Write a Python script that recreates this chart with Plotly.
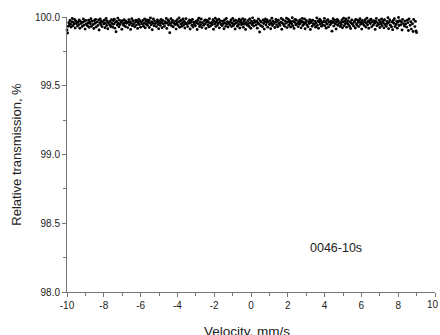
import numpy as np
import plotly.graph_objects as go

x_start, x_end = -10.0, 9.0
transmission = [
99.905, 99.884, 99.932, 99.958, 99.941, 99.975, 99.948, 99.927, 99.966, 99.989, 99.937, 99.961, 99.950, 99.982, 99.920, 99.971, 99.953, 100.006, 99.935, 99.964,
99.944, 99.979, 99.918, 99.968, 99.952, 100.019, 99.931, 99.962, 99.986, 99.940, 99.970, 99.912, 99.975, 99.949, 100.012, 99.936, 99.957, 99.977, 99.925, 99.966,
99.951, 99.988, 99.933, 99.969, 100.024, 99.945, 99.916, 99.974, 99.955, 99.983, 99.928, 99.963, 100.001, 99.939, 99.978, 99.905, 99.958, 99.985, 99.946, 99.970,
99.930, 99.964, 100.009, 99.950, 99.976, 99.922, 99.956, 99.990, 99.938, 99.972, 99.914, 99.957, 100.016, 99.943, 99.967, 99.931, 99.981, 99.953, 99.927, 99.975,
99.948, 99.984, 99.919, 99.961, 99.893, 99.969, 99.942, 99.992, 99.955, 99.929, 99.977, 99.946, 100.011, 99.963, 99.911, 99.973, 99.952, 99.940, 99.980, 99.959,
99.931, 99.970, 99.954, 100.004, 99.923, 99.962, 99.981, 99.944, 99.966, 99.910, 99.956, 99.988, 99.937, 99.973, 99.949, 100.021, 99.929, 99.961, 99.977, 99.941,
99.969, 99.917, 99.958, 99.983, 99.946, 99.971, 99.926, 99.963, 100.007, 99.950, 99.974, 99.933, 99.954, 99.986, 99.921, 99.968, 99.947, 99.979, 99.939, 99.960,
99.976, 99.924, 99.959, 99.993, 99.943, 99.966, 99.907, 99.955, 99.985, 99.936, 99.972, 99.952, 100.014, 99.930, 99.962, 99.978, 99.945, 99.915, 99.970, 99.957,
99.939, 99.982, 99.960, 99.922, 99.974, 99.950, 100.002, 99.932, 99.965, 99.955, 99.990, 99.917, 99.958, 99.978, 99.942, 99.968, 99.886, 99.952, 99.987, 99.936,
99.961, 99.975, 99.928, 99.957, 100.010, 99.946, 99.970, 99.912, 99.953, 99.981, 99.938, 99.963, 99.994, 99.925, 99.972, 99.950, 99.977, 99.933, 99.959, 99.986,
99.943, 99.967, 99.920, 99.956, 99.988, 99.947, 100.018, 99.930, 99.965, 99.954, 99.979, 99.913, 99.960, 99.973, 99.940, 99.983, 99.927, 99.962, 99.949, 100.005,
99.936, 99.970, 99.957, 99.909, 99.976, 99.951, 99.991, 99.931, 99.964, 99.944, 99.985, 99.923, 99.958, 100.013, 99.939, 99.972, 99.950, 99.979, 99.916, 99.961,
99.974, 99.942, 99.966, 99.928, 99.987, 99.954, 99.934, 100.003, 99.960, 99.946, 99.980, 99.911, 99.968, 99.950, 99.991, 99.930, 99.962, 99.976, 99.941, 99.957,
99.984, 99.921, 99.961, 99.972, 99.945, 100.022, 99.937, 99.969, 99.952, 99.915, 99.978, 99.956, 99.932, 99.989, 99.948, 99.966, 99.927, 99.959, 100.004, 99.943,
99.964, 99.979, 99.930, 99.955, 99.990, 99.938, 99.971, 99.950, 99.913, 99.976, 99.956, 100.008, 99.933, 99.968, 99.946, 99.984, 99.920, 99.962, 99.975, 99.944,
99.955, 99.988, 99.925, 99.967, 99.948, 99.981, 99.910, 99.959, 100.012, 99.940, 99.973, 99.952, 99.931, 99.985, 99.957, 99.918, 99.970, 99.945, 99.994, 99.956,
99.934, 99.975, 99.961, 100.001, 99.942, 99.969, 99.919, 99.956, 99.986, 99.949, 99.891, 99.972, 99.937, 99.963, 100.017, 99.929, 99.978, 99.953, 99.912, 99.967,
99.985, 99.941, 99.960, 99.979, 99.926, 99.964, 100.025, 99.946, 99.973, 99.914, 99.955, 99.991, 99.938, 99.970, 99.951, 100.009, 99.924, 99.961, 99.982, 99.943,
99.968, 99.929, 99.977, 99.953, 100.027, 99.939, 99.962, 99.989, 99.911, 99.957, 99.980, 99.945, 100.029, 99.932, 99.971, 99.954, 99.992, 99.923, 99.963, 99.984,
99.940, 99.974, 99.958, 99.927, 99.966, 99.949, 99.995, 99.935, 99.970, 99.917, 99.961, 99.983, 99.944, 99.976, 99.952, 100.015, 99.930, 99.965, 99.947, 99.979,
99.956, 99.921, 99.969, 99.990, 99.938, 99.962, 99.948, 99.986, 99.915, 99.959, 99.975, 99.942, 100.006, 99.929, 99.966, 99.953, 99.981, 99.909, 99.960, 99.972,
99.933, 99.977, 99.951, 100.020, 99.944, 99.968, 99.926, 99.957, 99.993, 99.939, 99.971, 99.918, 99.963, 99.984, 99.947, 99.973, 99.932, 99.958, 100.011, 99.941,
99.967, 99.990, 99.936, 99.961, 99.919, 99.975, 99.950, 99.980, 99.928, 99.964, 100.003, 99.943, 99.970, 99.955, 99.897, 99.966, 99.987, 99.934, 99.959, 99.976,
99.949, 99.913, 99.965, 99.982, 99.940, 99.972, 99.954, 100.018, 99.931, 99.960, 99.944, 99.978, 99.922, 99.963, 99.991, 99.937, 99.969, 99.951, 99.985, 99.926,
99.958, 99.973, 99.945, 99.994, 99.933, 99.966, 99.916, 99.957, 99.979, 99.948, 100.023, 99.935, 99.962, 99.971, 99.920, 99.983, 99.950, 99.939, 99.976, 99.961,
99.930, 99.969, 99.987, 99.947, 99.960, 99.912, 99.974, 99.953, 100.008, 99.938, 99.965, 99.981, 99.927, 99.956, 99.992, 99.943, 99.970, 99.918, 99.962, 99.978,
99.952, 99.984, 99.929, 99.966, 100.030, 99.941, 99.973, 99.955, 99.910, 99.968, 99.989, 99.936, 99.959, 100.014, 99.945, 99.977, 99.924, 99.963, 99.950, 99.986,
99.937, 99.971, 99.958, 99.921, 99.980, 99.946, 100.026, 99.933, 99.967, 99.952, 99.995, 99.915, 99.961, 99.978, 99.940, 100.019, 99.928, 99.964, 99.908, 99.975,
99.955, 99.988, 99.931, 100.032, 99.947, 99.970, 99.919, 99.962, 99.996, 99.938, 99.973, 100.021, 99.944, 99.966, 99.905, 99.983, 99.952, 100.028, 99.935, 99.969,
99.948, 100.024, 99.926, 99.977, 99.959, 99.902, 99.985, 100.031, 99.940, 99.965, 99.912, 100.035, 99.951, 99.895, 99.982, 100.027, 99.930, 99.968, 99.898, 99.887,
]
velocity = np.linspace(x_start, x_end, len(transmission))

x_ticks = [-10, -8, -6, -4, -2, 0, 2, 4, 6, 8, 10]
x_tick_text = ["-10", "-8", "-6", "-4", "-2", "0", "2", "4", "6", "8", "10"]
y_ticks = [98.0, 98.5, 99.0, 99.5, 100.0]
y_tick_text = ["98.0", "98.5", "99.0", "99.5", "100.0"]
label = "0046-10s"
x_title = "Velocity, mm/s"
y_title = "Relative transmission, %"

font = "Liberation Sans, Arial, sans-serif"
axis_col = "#777777"
text_col = "#222222"
fig = go.Figure()
fig.add_trace(go.Scatter(
    x=velocity, y=transmission, mode="markers",
    marker=dict(size=2.9, color="black"),
    cliponaxis=False, showlegend=False, hoverinfo="skip",
))
fig.add_annotation(x=4.62, y=98.32, text=label, showarrow=False,
                   font=dict(family=font, size=12.5, color=text_col))
# last x tick label (plotly drops it because it overflows the page edge)
fig.add_annotation(x=1.0, xref="paper", xanchor="right", xshift=6,
                   y=0, yref="paper", yanchor="top", yshift=-5,
                   text=x_tick_text[-1], showarrow=False,
                   font=dict(family=font, size=10, color=text_col))
fig.add_annotation(x=0.49, xref="paper", y=0, yref="paper", yanchor="top",
                   yshift=-30, text=x_title, showarrow=False,
                   font=dict(family=font, size=13.5, color=text_col))
axis_common = dict(showgrid=False, zeroline=False, showline=True,
                   linecolor=axis_col, linewidth=1, ticks="outside",
                   tickcolor=axis_col, tickwidth=1, ticklen=4,
                   automargin=False,
                   tickfont=dict(family=font, size=10, color=text_col))
fig.update_xaxes(range=[-10, 10], tickvals=x_ticks, ticktext=x_tick_text,
                 minor=dict(dtick=1, ticks="outside", ticklen=3, tickcolor=axis_col),
                 **axis_common)
fig.update_yaxes(range=[98, 100], tickvals=y_ticks, ticktext=y_tick_text,
                 minor=dict(dtick=0.25, ticks="outside", ticklen=3, tickcolor=axis_col),
                 title=dict(text=y_title, font=dict(family=font, size=13, color=text_col), standoff=10),
                 **axis_common)
fig.update_layout(width=440, height=335, margin=dict(l=67, r=5, t=17, b=43),
                  plot_bgcolor="white", paper_bgcolor="white")
fig.write_html("out.html", config={"displayModeBar": False},
               post_script="document.body.style.margin='0';")
